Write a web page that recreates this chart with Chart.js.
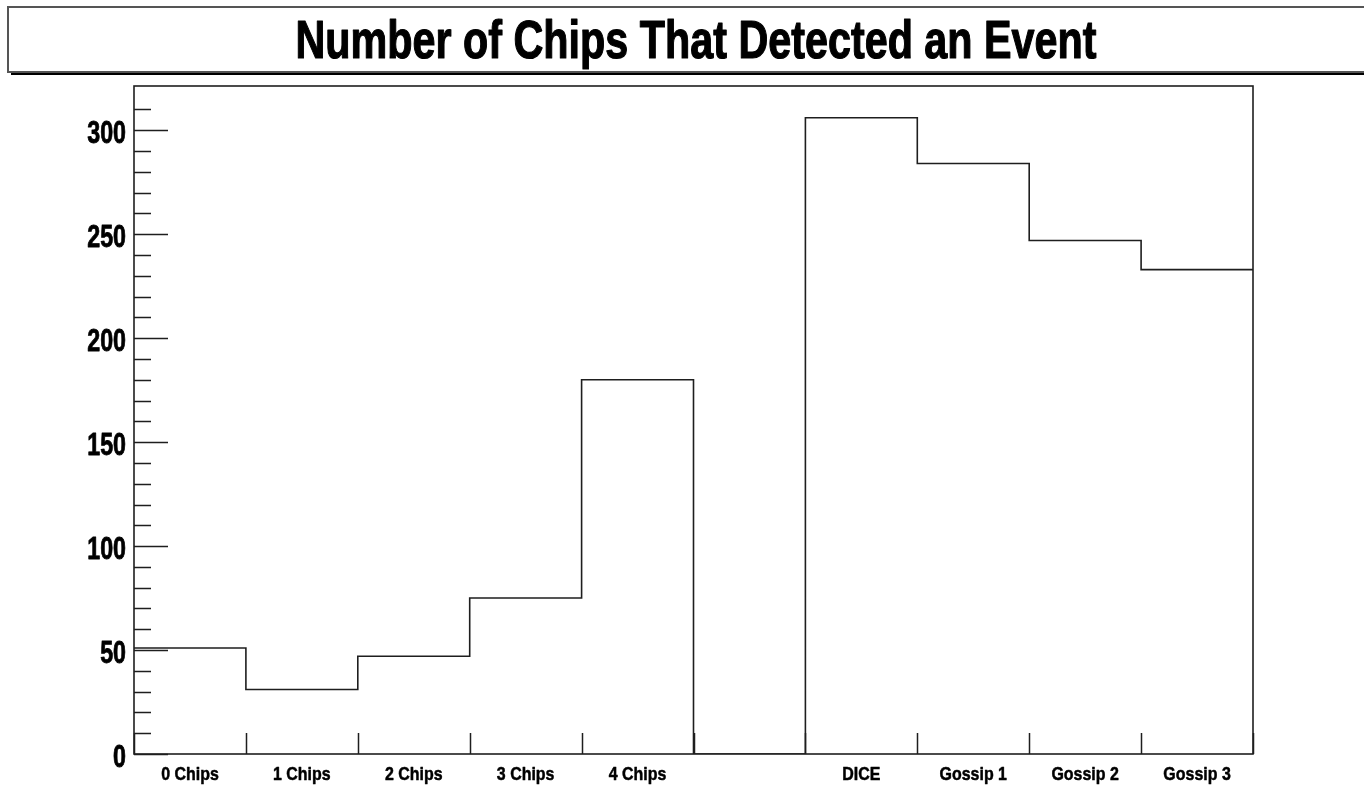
<!DOCTYPE html>
<html>
<head>
<meta charset="utf-8">
<script src="https://cdn.jsdelivr.net/npm/chart.js@4.4.1/dist/chart.umd.min.js"></script>
<style>
  html, body { margin: 0; padding: 0; background: #fff; }
  canvas { display: block; }
</style>
</head>
<body>
<canvas id="c" width="1364" height="786"></canvas>
<script>
// Histogram content
const chartTitle = 'Number of Chips That Detected an Event';
const categories = ['0 Chips', '1 Chips', '2 Chips', '3 Chips', '4 Chips', '', 'DICE', 'Gossip 1', 'Gossip 2', 'Gossip 3'];
const counts = [51, 31, 47, 75, 180, 0, 306, 284, 247, 233];
const yMax = 321.3;          // 1.05 x highest bin
const yMajorStep = 50;
const yMinorStep = 10;

const FONT = '"Liberation Sans", Arial, Helvetica, sans-serif';
const INK = '#1e1e1e';

// Step outline: each bin's low edge carries its count, closed at the last upper edge
const outline = counts.map((v, i) => ({ x: i, y: v }));
outline.push({ x: counts.length, y: counts[counts.length - 1] });

// Draw heavy text squeezed horizontally (condensed Helvetica look)
function condensedText(ctx, text, x, y, squeeze, align, weight) {
  ctx.save();
  ctx.translate(x, y);
  ctx.scale(squeeze, 1);
  ctx.textAlign = align;
  ctx.fillText(text, 0, 0);
  ctx.lineWidth = weight;
  ctx.lineJoin = 'round';
  ctx.strokeStyle = '#000';
  ctx.strokeText(text, 0, 0);
  ctx.restore();
}

// Title pad, frame, inward-pointing tick marks and condensed axis labels
const padAndFrame = {
  id: 'padAndFrame',
  beforeDraw(chart) {
    const ctx = chart.ctx;
    ctx.save();
    ctx.fillStyle = '#fff';
    ctx.fillRect(0, 0, chart.width, chart.height);
    ctx.restore();
  },
  afterDraw(chart) {
    const { ctx, chartArea: a, scales } = chart;
    const x = scales.x, y = scales.y;
    ctx.save();

    // title pad with drop shadow
    const bx = 8, by = 7, bw = chart.width + 20, bh = 65;
    ctx.fillStyle = '#000';
    ctx.fillRect(bx + 3, by + bh, bw, 3);
    ctx.fillStyle = '#fff';
    ctx.fillRect(bx, by, bw, bh);
    ctx.strokeStyle = '#555';
    ctx.lineWidth = 2;
    ctx.strokeRect(bx, by, bw, bh);

    // title text
    ctx.fillStyle = '#000';
    ctx.textBaseline = 'alphabetic';
    ctx.font = 'bold 53px ' + FONT;
    const tw = ctx.measureText(chartTitle).width;
    condensedText(ctx, chartTitle, 696, 58, 801 / tw, 'center', 1.2);

    // plot frame
    ctx.strokeStyle = INK;
    ctx.lineWidth = 1.6;
    ctx.strokeRect(a.left, a.top, a.right - a.left, a.bottom - a.top);

    // y ticks, pointing into the plot, with labels on the majors
    const marks = new Path2D();
    ctx.font = 'bold 31px ' + FONT;
    y.ticks.forEach(t => {
      if (Math.abs(t.value % yMinorStep) > 1e-6) return;
      const py = Math.round(y.getPixelForValue(t.value)) + 0.5;
      const major = t.value % yMajorStep === 0;
      marks.moveTo(a.left, py);
      marks.lineTo(a.left + (major ? 34 : 17), py);
      if (major) condensedText(ctx, String(t.value), a.left - 8, py + 12.5, 0.75, 'right', 0.8);
    });
    // x ticks at bin edges, pointing into the plot; category names at bin centres
    ctx.font = 'bold 19px ' + FONT;
    x.ticks.forEach(t => {
      const px = x.getPixelForValue(t.value);
      if (Number.isInteger(t.value)) {
        const ex = Math.round(px) + 0.5;
        marks.moveTo(ex, a.bottom);
        marks.lineTo(ex, a.bottom - 21);
      } else {
        const name = categories[Math.floor(t.value)];
        if (name) condensedText(ctx, name, px, a.bottom + 26, 0.84, 'center', 0.5);
      }
    });
    ctx.strokeStyle = INK;
    ctx.lineWidth = 1.5;
    ctx.stroke(marks);
    ctx.restore();
  }
};

new Chart(document.getElementById('c'), {
  type: 'line',
  data: {
    datasets: [{
      data: outline,
      stepped: 'before',
      borderColor: INK,
      borderWidth: 1.6,
      pointRadius: 0,
      fill: false,
      tension: 0
    }]
  },
  options: {
    responsive: false,
    animation: false,
    layout: { padding: { top: 86, right: 111, left: 0, bottom: 0 } },
    plugins: {
      legend: { display: false },
      tooltip: { enabled: false },
      title: { display: false }
    },
    scales: {
      x: {
        type: 'linear',
        min: 0,
        max: categories.length,
        grid: { display: false, drawTicks: false },
        border: { display: false },
        afterFit(s) { s.height = 32; },
        ticks: { display: false, stepSize: 0.5, autoSkip: false }
      },
      y: {
        min: 0,
        max: yMax,
        grid: { display: false, drawTicks: false },
        border: { display: false },
        afterFit(s) { s.width = 134; },
        ticks: { display: false, stepSize: yMinorStep, autoSkip: false }
      }
    }
  },
  plugins: [padAndFrame]
});
</script>
</body>
</html>
